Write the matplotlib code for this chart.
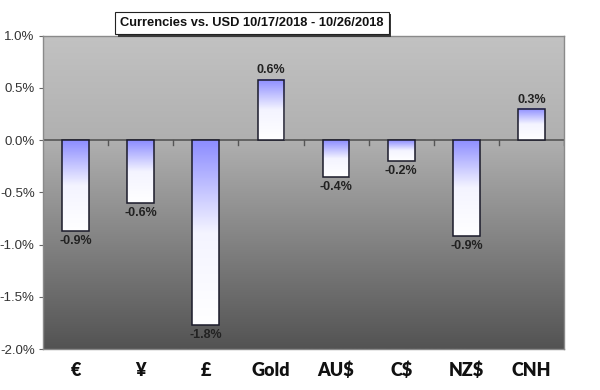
import matplotlib.pyplot as plt
import numpy as np
from matplotlib.patches import Rectangle
from matplotlib.colors import LinearSegmentedColormap
from matplotlib.ticker import FuncFormatter

# data (percent)
currencies = ['€', '¥', '£', 'Gold', 'AU$', 'C$', 'NZ$', 'CNH']
changes = [-0.87, -0.60, -1.77, 0.58, -0.35, -0.20, -0.92, 0.30]
labels = ['-0.9%', '-0.6%', '-1.8%', '0.6%', '-0.4%', '-0.2%', '-0.9%', '0.3%']
title = 'Currencies vs. USD 10/17/2018 - 10/26/2018'

fig = plt.figure(figsize=(6, 3.9), dpi=100)
ax = fig.add_axes([0.0717, 0.105, 0.8683, 0.8035])
ax.set_xlim(-0.5, len(currencies) - 0.5)
ax.set_ylim(-2.0, 1.0)

# background gradient of the plot area
bg = LinearSegmentedColormap.from_list('bg', [(0, '#535353'), (0.667, '#b0b0b0'), (1, '#c2c2c2')])
grad = np.linspace(0, 1, 256).reshape(-1, 1)
ax.imshow(grad, cmap=bg, aspect='auto', origin='lower',
          extent=(-0.5, len(currencies) - 0.5, -2.0, 1.0), zorder=0)

barcm = LinearSegmentedColormap.from_list('bar', ['#ffffff', '#f4f4ff', '#8c8cff'])
w = 0.41
bars = ax.bar(range(len(currencies)), changes, width=w, facecolor='none',
              edgecolor='#1a1a2a', linewidth=1.1, zorder=3)
for b, v, lab in zip(bars, changes, labels):
    x0 = b.get_x()
    lo, hi = min(0, v), max(0, v)
    ax.imshow(grad, cmap=barcm, aspect='auto', origin='lower',
              extent=(x0, x0 + w, lo, hi), zorder=2)
    if v >= 0:
        ax.text(b.get_x() + w / 2, hi + 0.03, lab, ha='center', va='bottom',
                fontsize=9, fontweight='bold', family='Liberation Sans',
                color='#222222', zorder=4)
    else:
        ax.text(b.get_x() + w / 2, lo - 0.04, lab, ha='center', va='top',
                fontsize=9, fontweight='bold', family='Liberation Sans',
                color='#222222', zorder=4)

# zero line with category-boundary ticks
ax.axhline(0, color='#555555', lw=1.2, zorder=1.5)
for k in range(1, len(currencies) + 1):
    ax.plot([k - 0.5, k - 0.5], [0, -0.05], color='#555555', lw=1, zorder=1.5)

ax.set_yticks(np.arange(-2.0, 1.01, 0.5))
ax.yaxis.set_major_formatter(FuncFormatter(lambda v, p: f'{v:.1f}%'))
ax.tick_params(axis='y', length=3, color='#666666', labelsize=9.5,
               labelcolor='#333333', pad=3)
for t in ax.get_yticklabels():
    t.set_family('Liberation Sans')

ax.set_xticks(range(len(currencies)))
ax.set_xticklabels(currencies, fontsize=13, fontweight='heavy', family='Lato', color='#111111')
ax.tick_params(axis='x', length=0, pad=9)

for s in ax.spines.values():
    s.set_color('#8a8a8a')
    s.set_linewidth(1)

# title box, then a drop shadow patch behind it
ttl = fig.text(0.42, 0.941, title, ha='center', va='center', fontsize=9.3, fontweight='bold',
               family='Liberation Sans', color='#111111', zorder=5,
               bbox=dict(boxstyle='square,pad=0.4', facecolor='white', edgecolor='#222222', lw=0.8))
fig.canvas.draw()
bb = ttl.get_bbox_patch().get_window_extent().transformed(fig.transFigure.inverted())
dx, dy = 2.5 / 600, 2.5 / 390
fig.patches.append(Rectangle((bb.x0 + dx, bb.y0 - dy), bb.width, bb.height,
                             transform=fig.transFigure, facecolor='#3a3a3a',
                             edgecolor='none', zorder=4))

fig.savefig('out.png', dpi=100)
